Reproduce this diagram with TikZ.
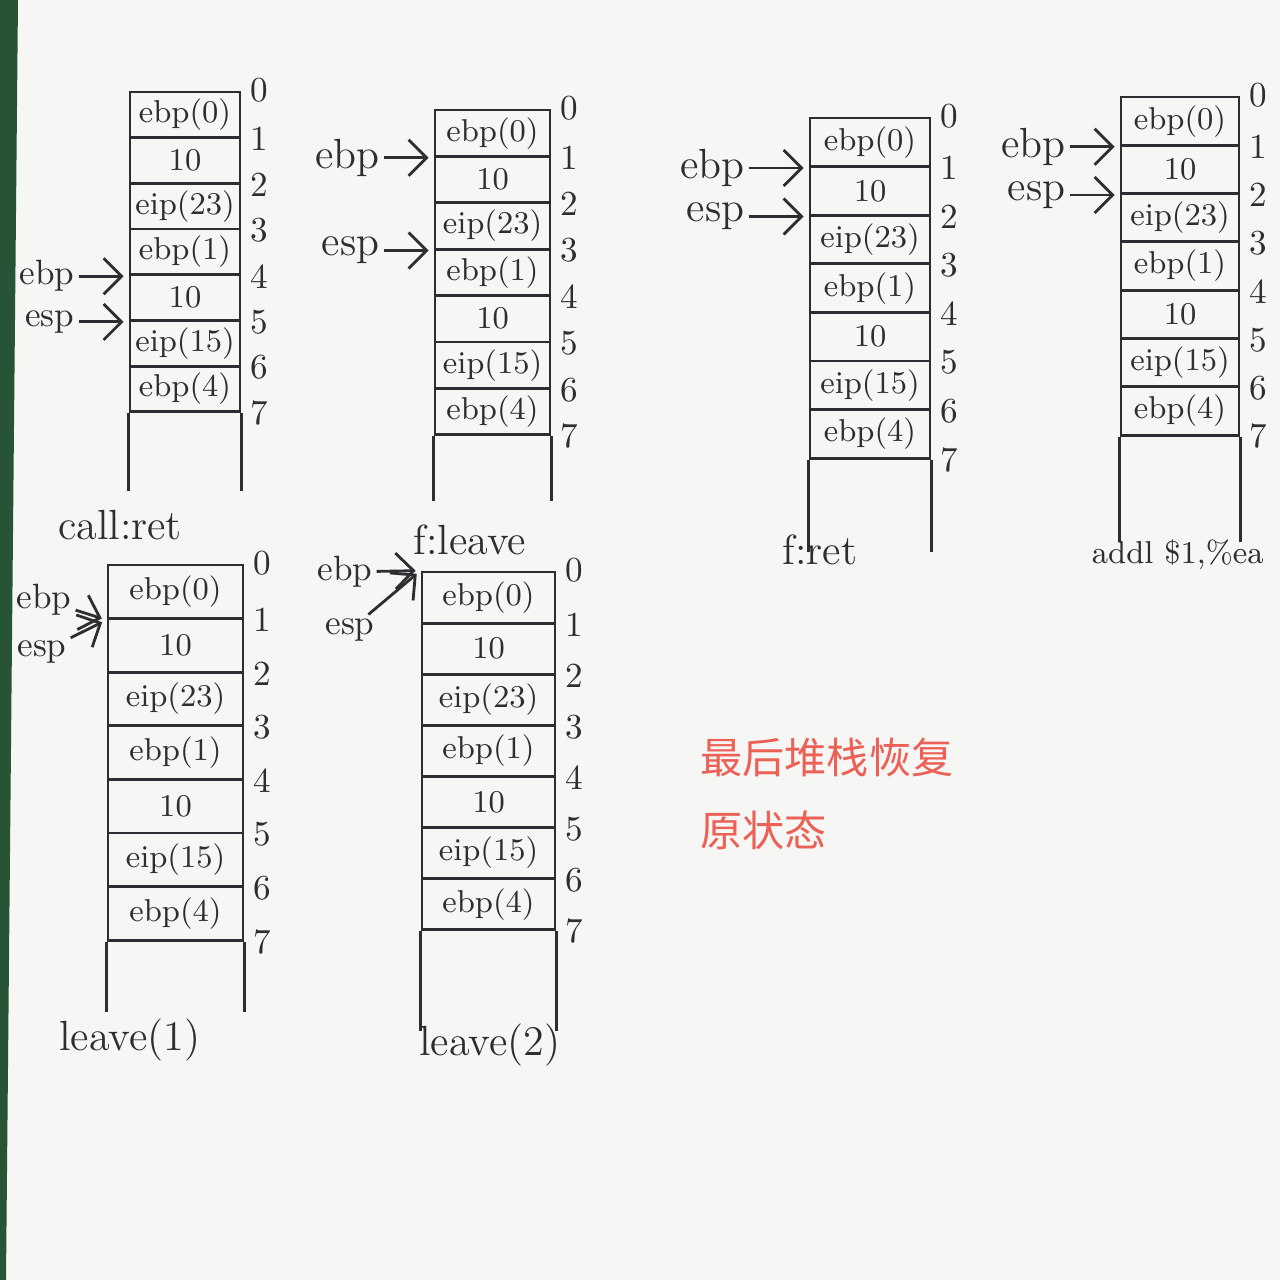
\documentclass[tikz,border=0pt]{standalone}
\usepackage{fontspec}
\newfontfamily\cjkfont{Noto Sans CJK SC}
\usetikzlibrary{arrows.meta,positioning}
\definecolor{InkGray}{RGB}{45,45,50}
\definecolor{PaperWhite}{RGB}{246,246,244}
\definecolor{NoteRed}{RGB}{236,96,86}
\definecolor{BoardGreen}{RGB}{38,84,52}
\tikzset{
  cell/.style={draw=InkGray, line width=0.8pt, inner sep=0pt, font=\small, text=InkGray},
  idx/.style={anchor=west, xshift=0.5mm, font=\normalsize, text=InkGray, inner sep=1pt},
  wall/.style={draw=InkGray, line width=0.8pt},
  reg/.style={font=\large, text=InkGray, inner sep=1pt},
  ptr/.style={-{Straight Barb[length=1.8mm]}, line width=0.8pt, draw=InkGray, shorten >=0.5mm},
  caption/.style={font=\large, text=InkGray},
  note/.style={font=\cjkfont\large, text=NoteRed, anchor=west}
}
% one stack frame: name, x, top y, row height, width, open tail
\newcommand{\memstack}[6]{%
  \foreach \lab [count=\i] in {ebp(0),10,eip(23),ebp(1),10,eip(15),ebp(4)} {
    \node[cell, minimum width=#5cm, minimum height=#4cm] (#1-\i) at ({#2},{#3-(\i-0.5)*#4}) {\lab};
  }
  \node[idx] (#1-n0) at (#1-1.north east) {0};
  \foreach \i in {1,...,7} {
    \node[idx] (#1-n\i) at (#1-\i.south east) {\i};
  }
  \draw[wall] (#1-7.south west) -- ++(0,-#6);
  \draw[wall] (#1-7.south east) -- ++(0,-#6);
}

\begin{document}
\begin{tikzpicture}
  \useasboundingbox (0,0) rectangle (12.8,-12.8);
  \fill[PaperWhite] (0,0) rectangle (12.8,-12.8);
  \fill[BoardGreen] (0,0) -- (0.18,0) -- (0.06,-12.8) -- (0,-12.8) -- cycle;

  % top row
  \memstack{s1}{1.85}{-0.92}{0.457}{1.10}{0.78}
  \memstack{s2}{4.925}{-1.10}{0.464}{1.15}{0.65}
  \memstack{s3}{8.70}{-1.18}{0.486}{1.20}{0.92}
  \memstack{s4}{11.80}{-0.97}{0.483}{1.18}{1.05}
  % bottom row
  \memstack{s5}{1.755}{-5.65}{0.536}{1.35}{0.70}
  \memstack{s6}{4.885}{-5.72}{0.511}{1.33}{1.00}

  % registers
  \node[reg, font=\normalsize, left=5mm of s1-4.south west] (s1-ebp) {ebp};
  \node[reg, font=\normalsize, left=5mm of s1-5.south west] (s1-esp) {esp};
  \draw[ptr] (s1-ebp) -- (s1-4.south west);
  \draw[ptr] (s1-esp) -- (s1-5.south west);

  \node[reg, left=5mm of s2-1.south west] (s2-ebp) {ebp};
  \node[reg, left=5mm of s2-3.south west] (s2-esp) {esp};
  \draw[ptr] (s2-ebp) -- (s2-1.south west);
  \draw[ptr] (s2-esp) -- (s2-3.south west);

  \node[reg, left=6mm of s3-1.south west] (s3-ebp) {ebp};
  \node[reg, left=6mm of s3-2.south west] (s3-esp) {esp};
  \draw[ptr] (s3-ebp) -- (s3-1.south west);
  \draw[ptr] (s3-esp) -- (s3-2.south west);

  \node[reg, left=5mm of s4-1.south west] (s4-ebp) {ebp};
  \node[reg, left=5mm of s4-2.south west] (s4-esp) {esp};
  \draw[ptr] (s4-ebp) -- (s4-1.south west);
  \draw[ptr] (s4-esp) -- (s4-2.south west);

  \node[reg, font=\normalsize] (s5-ebp) at (0.44,-6.00) {ebp};
  \node[reg, font=\normalsize] (s5-esp) at (0.42,-6.52) {esp};
  \draw[ptr] (s5-ebp) -- (s5-1.south west);
  \draw[ptr] (s5-esp) -- (s5-1.south west);

  \node[reg, font=\normalsize] (s6-ebp) at (3.45,-5.72) {ebp};
  \node[reg, font=\normalsize] (s6-esp) at (3.50,-6.30) {esp};
  \draw[ptr] (s6-ebp) -- (s6-1.north west);
  \draw[ptr] (s6-esp) -- (s6-1.north west);

  % captions
  \node[caption] (c1) at (1.20,-5.25) {call:ret};
  \node[caption] (c2) at (4.70,-5.40) {f:leave};
  \node[caption] (c3) at (8.20,-5.50) {f:ret};
  \node[caption, font=\small, anchor=east] (c4) at (12.76,-5.55) {addl \$1,\%ea};
  \node[caption] (c5) at (1.30,-10.40) {leave(1)};
  \node[caption] (c6) at (4.90,-10.45) {leave(2)};

  % note
  \node[note] (note1) at (6.88,-7.57) {最后堆栈恢复};
  \node[note] (note2) at (6.88,-8.30) {原状态};
\end{tikzpicture}
\end{document}
